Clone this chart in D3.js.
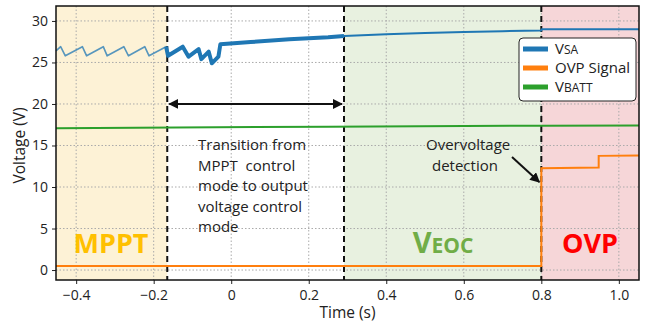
<!DOCTYPE html>
<html>
<head>
<meta charset="utf-8">
<script src="https://cdn.jsdelivr.net/npm/d3@7"></script>
<style>
  body { margin: 0; background: #fff; }
  svg text { font-family: "Open Sans", "Noto Sans", sans-serif; fill: #222; }
</style>
</head>
<body>
<div id="chart"></div>
<script>
// x ticks / y ticks
const xTicks = [-0.4, -0.2, 0, 0.2, 0.4, 0.6, 0.8, 1.0];
const yTicks = [0, 5, 10, 15, 20, 25, 30];

// mode boundaries (s)
const modeBounds = [-0.165, 0.291, 0.8];
const modeNames = ["MPPT", "VEOC", "OVP"];

// VSA (time, volt)
const vsaData = [
  [-0.452, 26.4], [-0.440, 26.9], [-0.428, 25.8], [-0.384, 26.9], [-0.373, 25.8],
  [-0.330, 26.9], [-0.320, 25.8], [-0.277, 26.9], [-0.265, 25.8], [-0.223, 26.9],
  [-0.212, 25.8], [-0.168, 26.9], [-0.163, 25.8], [-0.125, 26.9], [-0.110, 25.7],
  [-0.084, 26.6], [-0.077, 25.4], [-0.058, 26.3], [-0.050, 24.9], [-0.033, 25.7],
  [-0.028, 27.2], [0.05, 27.45], [0.15, 27.8], [0.25, 28.05], [0.291, 28.2],
  [0.4, 28.4], [0.5, 28.55], [0.6, 28.67], [0.7, 28.77], [0.8, 28.85],
  [0.801, 29.0], [1.052, 29.0]
];
// OVP signal
const ovpData = [
  [-0.452, 0.5], [0.8, 0.5], [0.8, 12.25], [0.948, 12.35], [0.948, 13.75], [1.052, 13.8]
];
// VBATT
const vbattData = [
  [-0.452, 17.07], [0.25, 17.27], [0.8, 17.38], [1.052, 17.42]
];

const W = 647, H = 326;
const margin = {left: 56, right: 8, top: 6, bottom: 46};

const svg = d3.select("#chart").append("svg")
  .attr("width", W).attr("height", H);

const x = d3.scaleLinear().domain([-0.452, 1.052]).range([margin.left, W - margin.right]);
const y = d3.scaleLinear().domain([-1.2, 31.8]).range([H - margin.bottom, margin.top]);

// background mode shading
const shades = [
  {from: -0.452, to: modeBounds[0], fill: "#fdf2d6"},
  {from: modeBounds[1], to: modeBounds[2], fill: "#e8f1e0"},
  {from: modeBounds[2], to: 1.052, fill: "#f6d6d8"}
];
svg.append("g").selectAll("rect").data(shades).enter().append("rect")
  .attr("x", d => x(d.from)).attr("width", d => x(d.to) - x(d.from))
  .attr("y", y(31.8)).attr("height", y(-1.2) - y(31.8))
  .attr("fill", d => d.fill);

// grid
const grid = svg.append("g");
grid.selectAll("line.gx").data(xTicks).enter().append("line")
  .attr("x1", d => x(d)).attr("x2", d => x(d))
  .attr("y1", y(31.8)).attr("y2", y(-1.2))
  .attr("stroke", "#aaa").attr("stroke-width", 1).attr("stroke-dasharray", "1.5,2");
grid.selectAll("line.gy").data(yTicks).enter().append("line")
  .attr("x1", x(-0.452)).attr("x2", x(1.052))
  .attr("y1", d => y(d)).attr("y2", d => y(d))
  .attr("stroke", "#aaa").attr("stroke-width", 1).attr("stroke-dasharray", "1.5,2");

// axes
const xAxis = svg.append("g")
  .attr("transform", `translate(0,${H - margin.bottom})`)
  .call(d3.axisBottom(x).tickValues(xTicks).tickSize(4).tickPadding(6)
    .tickFormat(d => d === 0 ? "0" : (d === 1 ? "1.0" : d3.format(".1f")(d))));
const yAxis = svg.append("g")
  .attr("transform", `translate(${margin.left},0)`)
  .call(d3.axisLeft(y).tickValues(yTicks).tickSize(4).tickPadding(4));
[xAxis, yAxis].forEach(a => {
  a.select(".domain").remove();
  a.selectAll("text").attr("font-size", 14).attr("fill", "#222");
  a.selectAll("line").attr("stroke", "#222");
});

// mode boundary dashed lines
svg.append("g").selectAll("line").data(modeBounds).enter().append("line")
  .attr("x1", d => x(d)).attr("x2", d => x(d))
  .attr("y1", y(31.8)).attr("y2", y(-1.2))
  .attr("stroke", "#111").attr("stroke-width", 2).attr("stroke-dasharray", "6,4");

const line = d3.line().x(d => x(d[0])).y(d => y(d[1]));

// VBATT
svg.append("path").datum(vbattData).attr("d", line)
  .attr("fill", "none").attr("stroke", "#2ca02c").attr("stroke-width", 2);

// OVP signal
svg.append("path").datum(ovpData).attr("d", line)
  .attr("fill", "none").attr("stroke", "#ff7f0e").attr("stroke-width", 2);

// VSA, drawn in pieces so the noisy part looks thicker
const vsaParts = [
  {pts: vsaData.filter(d => d[0] <= -0.168), w: 1.6, op: 0.75},
  {pts: vsaData.filter(d => d[0] >= -0.168 && d[0] <= 0.291), w: 4, op: 1},
  {pts: vsaData.filter(d => d[0] >= 0.291), w: 2, op: 1}
];
svg.append("g").selectAll("path").data(vsaParts).enter().append("path")
  .attr("d", d => line(d.pts))
  .attr("fill", "none").attr("stroke", "#1f77b4")
  .attr("stroke-width", d => d.w).attr("stroke-opacity", d => d.op)
  .attr("stroke-linejoin", "round");

// frame
svg.append("rect")
  .attr("x", x(-0.452)).attr("y", y(31.8))
  .attr("width", x(1.052) - x(-0.452)).attr("height", y(-1.2) - y(31.8))
  .attr("fill", "none").attr("stroke", "#111").attr("stroke-width", 1.5);

// arrow markers
const defs = svg.append("defs");
defs.append("marker").attr("id", "ah").attr("viewBox", "0 0 10 10")
  .attr("refX", 9).attr("refY", 5).attr("markerWidth", 5).attr("markerHeight", 5)
  .attr("orient", "auto-start-reverse")
  .append("path").attr("d", "M0,0 L10,5 L0,10 z").attr("fill", "#111");

// double arrow for transition
svg.append("line")
  .attr("x1", x(modeBounds[0]) + 2).attr("x2", x(modeBounds[1]) - 2)
  .attr("y1", y(20)).attr("y2", y(20))
  .attr("stroke", "#111").attr("stroke-width", 2)
  .attr("marker-start", "url(#ah)").attr("marker-end", "url(#ah)");

// transition text
const transLines = ["Transition from", "MPPT  control", "mode to output", "voltage control", "mode"];
svg.append("text").attr("x", 198).attr("y", 150).attr("font-size", 15)
  .selectAll("tspan").data(transLines).enter().append("tspan")
  .attr("x", 198).attr("dy", (d, i) => i === 0 ? 0 : 20.5)
  .attr("xml:space", "preserve").text(d => d);

// overvoltage annotation
svg.append("text").attr("x", 426).attr("y", 150).attr("font-size", 15)
  .selectAll("tspan").data(["Overvoltage", "detection"]).enter().append("tspan")
  .attr("x", (d, i) => i === 0 ? 426 : 432).attr("dy", (d, i) => i === 0 ? 0 : 21).text(d => d);
svg.append("line")
  .attr("x1", 512).attr("y1", 157).attr("x2", x(0.8) - 2).attr("y2", y(10.6))
  .attr("stroke", "#111").attr("stroke-width", 2).attr("marker-end", "url(#ah)");

// mode labels
const modeLbl = svg.append("g").attr("font-weight", "bold");
modeLbl.append("text").attr("x", 111).attr("y", 253).attr("text-anchor", "middle")
  .attr("font-size", 27).style("fill", "#ffc000").text(modeNames[0]);
const veoc = modeLbl.append("text").attr("x", 443).attr("y", 253).attr("text-anchor", "middle")
  .style("fill", "#70ad47");
veoc.append("tspan").attr("font-size", 29).text(modeNames[1].slice(0, 1));
veoc.append("tspan").attr("font-size", 21).text(modeNames[1].slice(1));
modeLbl.append("text").attr("x", 590).attr("y", 253).attr("text-anchor", "middle")
  .attr("font-size", 27).style("fill", "#ff0000").text(modeNames[2]);

// legend
const legendItems = [
  {big: "V", small: "SA", color: "#1f77b4"},
  {big: "OVP Signal", small: "", color: "#ff7f0e"},
  {big: "V", small: "BATT", color: "#2ca02c"}
];
const lg = svg.append("g").attr("transform", "translate(519,38)");
lg.append("rect").attr("width", 117).attr("height", 63).attr("rx", 4)
  .attr("fill", "#fff").attr("stroke", "#222").attr("stroke-width", 1);
const li = lg.selectAll("g").data(legendItems).enter().append("g")
  .attr("transform", (d, i) => `translate(0,${11 + i * 19})`);
li.append("line").attr("x1", 4).attr("x2", 29).attr("y1", 0).attr("y2", 0)
  .attr("stroke", d => d.color).attr("stroke-width", 5);
const lt = li.append("text").attr("x", 36).attr("y", 5).attr("font-size", 15);
lt.append("tspan").text(d => d.big);
lt.append("tspan").attr("font-size", 12).text(d => d.small);

// axis titles
svg.append("text").attr("x", x(0.3)).attr("y", 318).attr("text-anchor", "middle")
  .attr("font-size", 15.5).text("Time (s)");
svg.append("text").attr("transform", `translate(25,${y(15)}) rotate(-90)`)
  .attr("text-anchor", "middle").attr("font-size", 15.5).text("Voltage (V)");
</script>
</body>
</html>
